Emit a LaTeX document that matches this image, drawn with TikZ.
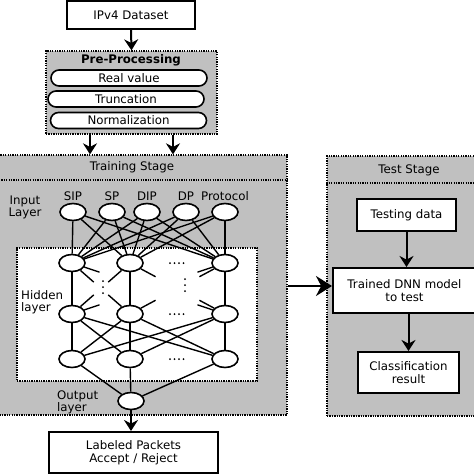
\documentclass[tikz,border=0pt]{standalone}
\usepackage{fontspec}
\setmainfont{DejaVu Sans}
\usetikzlibrary{arrows.meta,calc,shapes.geometric}
\definecolor{panel}{RGB}{192,192,192}
\begin{document}
\begin{tikzpicture}[x=1pt,y=-1pt,
  txt/.style={font=\fontsize{11.8}{12}\selectfont,inner sep=0pt},
  box/.style={draw,line width=2pt,fill=white,inner sep=0pt,align=center,font=\fontsize{11.8}{12.5}\selectfont},
  stagebox/.style={draw,line width=1.3pt,dash pattern=on 1.3pt off 1.1pt,fill=panel,inner sep=0pt},
  dotline/.style={line width=1.3pt,dash pattern=on 1.3pt off 1.1pt},
  pill/.style={draw,line width=1.6pt,fill=white,rounded corners=8pt,minimum width=156pt,minimum height=16pt,inner sep=0pt,font=\fontsize{11.8}{12}\selectfont},
  neuron/.style={draw,ellipse,line width=1.6pt,fill=white,minimum width=26pt,minimum height=17pt,inner sep=0pt},
  edge/.style={line width=1.4pt},
  arr/.style={line width=2pt,-{Stealth[length=11pt,width=14pt]}},
  bigarr/.style={line width=2pt,-{Stealth[length=16pt,width=20pt]}},
  dot/.style={fill=black,circle,inner sep=0pt,minimum size=2pt}
]
\useasboundingbox (0,0) rectangle (474,474);

% stage panels
\node[stagebox,minimum width=297pt,minimum height=260pt] (train) at (138.5,285) {};
\node[stagebox,minimum width=163pt,minimum height=260pt] (test) at (408.5,286) {};
\node[stagebox,minimum width=171pt,minimum height=83pt] (pre) at (131.5,92.5) {};
\coordinate (tsep) at (0,180);
\coordinate (ssep) at (0,183);
\draw[dotline] (train.west |- tsep) -- (train.east |- tsep);
\draw[dotline] (test.west |- ssep) -- (test.east |- ssep);
\node[draw,line width=1.3pt,dash pattern=on 1.3pt off 1.1pt,fill=white,minimum width=240pt,minimum height=133pt] (hidbox) at (137,314.5) {};

% titles
\node[txt] (traintitle) at (132,167) {Training Stage};
\node[txt] (testtitle) at (409,170) {Test Stage};
\node[txt,font=\bfseries\fontsize{11.8}{12}\selectfont] (pretitle) at (131,60) {Pre-Processing};

% top boxes
\node[box,minimum width=128pt,minimum height=28pt] (ipv4) at (131,15) {IPv4 Dataset};
\node[pill] (real) at (129,78) {Real value};
\node[pill] (trunc) at (126,99) {Truncation};
\node[pill] (norm) at (128.5,120.5) {Normalization};

\draw[arr] (ipv4.south) -- (pre.north);
\coordinate (a1) at (90,0);
\coordinate (a2) at (173,0);
\draw[arr] (pre.south -| a1) -- (train.north -| a1);
\draw[arr] (pre.south -| a2) -- (train.north -| a2);

% labels
\node[txt,align=center] (inlab) at (25,207.5) {Input\\Layer};
\node[txt,align=left,anchor=west] (hidlab) at (21,302.5) {Hidden\\layer};
\node[txt,align=left,anchor=west] (outlab) at (57,402.5) {Output\\layer};

% input layer
\foreach \n/\x/\t in {1/73/SIP,2/112/SP,3/147/DIP,4/186/DP,5/225/Protocol}{
  \node[neuron] (in\n) at (\x,212) {};
  \node[txt] (inl\n) at (\x,196) {\t};
}
% hidden layers
\foreach \n/\x in {1/72,2/130,3/225}{
  \node[neuron] (ha\n) at (\x,263) {};
  \node[neuron] (hb\n) at (\x,314) {};
  \node[neuron] (hc\n) at (\x,359) {};
}
\node[neuron] (out) at (131,401) {};

% edges
\foreach \i in {1,...,5}{
  \foreach \j in {1,2,3}{
    \draw[edge] (in\i) -- (ha\j);
  }
}
\foreach \i in {1,2,3}{
  \foreach \j in {1,2,3}{
    \draw[edge] (ha\i) -- ($(ha\i)!29pt!(hb\j)$);
    \draw[edge] (hb\j) -- ($(hb\j)!29pt!(ha\i)$);
    \draw[edge] (hb\i) -- (hc\j);
  }
  \draw[edge] (hc\i) -- (out);
}

% ellipsis dots
\foreach \y in {263,314,359}{
  \foreach \x in {170,174.5,179,183.5}{
    \node[dot] at (\x,\y) {};
  }
}
\foreach \y in {281,287,293}{ \node[dot] at (103,\y) {}; }
\foreach \y in {279,285,291}{ \node[dot] at (185,\y) {}; }

% output box
\node[box,minimum width=169pt,minimum height=41pt] (label) at (133.5,452.5) {Labeled Packets\\Accept / Reject};
\draw[arr] (out) -- (label.north -| out);

% test stage
\node[box,minimum width=99pt,minimum height=32pt] (tdata) at (406.5,215) {Testing data};
\node[box,minimum width=143pt,minimum height=45pt] (dnn) at (404.5,290.5) {Trained DNN model\\to test};
\node[box,minimum width=101pt,minimum height=41pt] (cls) at (408.5,372.5) {Classification\\result};
\draw[arr] (tdata.south) -- (tdata.south |- dnn.north);
\draw[arr] (dnn.south -| cls) -- (cls.north);
\coordinate (am) at (0,286);
\draw[bigarr] (train.east |- am) -- (dnn.west |- am);
\end{tikzpicture}
\end{document}
